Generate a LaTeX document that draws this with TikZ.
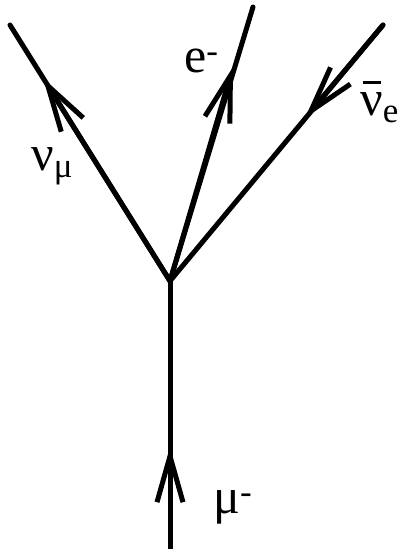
\documentclass[tikz,border=0pt]{standalone}
\usepackage{fontspec}
\setmainfont{Liberation Serif}
\usetikzlibrary{arrows.meta}
\tikzset{
  leg/.style={line width=5pt,line cap=round},
  flow/.style={leg,-{Straight Barb[length=46pt,width=26pt]}},
  lbl/.style={anchor=base west,inner sep=0pt,font=\fontsize{50}{56}\selectfont}
}
\newcommand{\barnu}{\makebox[0pt][l]{\hspace{0.05em}\raisebox{0.62em}{\rule{0.36em}{0.07em}}}ν}

\begin{document}
\begin{tikzpicture}[x=1pt,y=-1pt]
\useasboundingbox (0,0) rectangle (398,549);
% vertex and leg ends
\coordinate (vx) at (170,281);
\coordinate (mu) at (170,549);
\coordinate (numu) at (10,25);
\coordinate (el) at (253,7);
\coordinate (nue) at (383,25);
% where the arrows sit
\coordinate (amu) at (170,447);
\coordinate (anumu) at (43,78);
\coordinate (ael) at (233,67);
\coordinate (anue) at (305,118);
\draw[leg] (mu) -- (vx);
\draw[leg] (vx) -- (numu);
\draw[leg] (vx) -- (el);
\draw[leg] (vx) -- (nue);
\draw[flow] (mu) -- (amu);
\draw[flow] (vx) -- (anumu);
\draw[flow] (vx) -- (ael);
\draw[flow] (nue) -- (anue);
\node[lbl] (lnumu) at (31,170) {ν\textsubscript{μ}};
\node[lbl] (lel) at (184,72) {e\textsuperscript{-}};
\node[lbl] (lnue) at (360,115) {\barnu\textsubscript{e}};
\node[lbl] (lmu) at (213,513) {μ\textsuperscript{-}};
\end{tikzpicture}
\end{document}
